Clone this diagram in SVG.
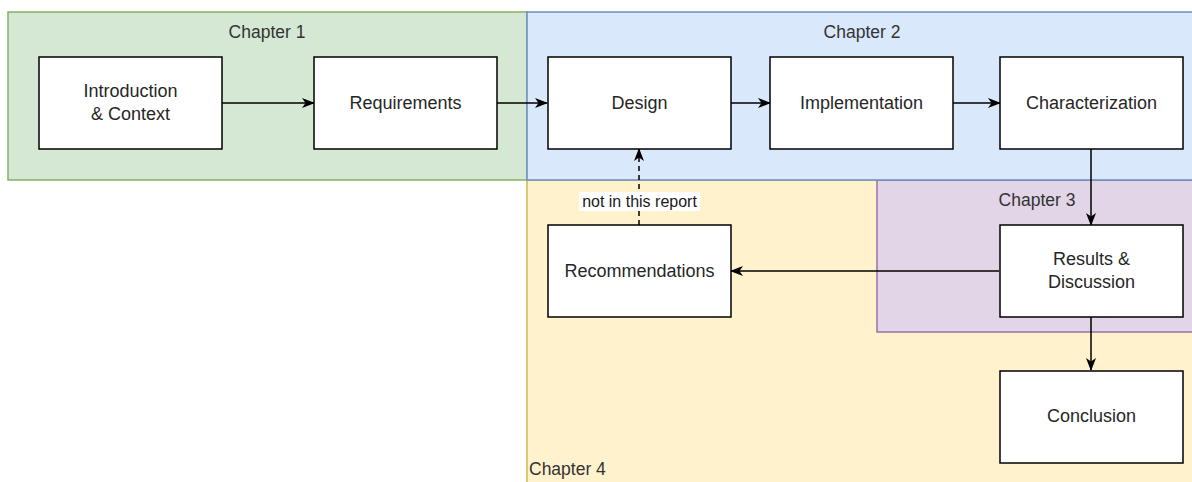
<svg xmlns="http://www.w3.org/2000/svg" width="1192" height="482" viewBox="0 0 1192 482">
  <style>
    .node rect { fill: #ffffff; stroke: #000000; stroke-width: 1.5; }
    .label { font-family: "Liberation Sans", Arial, sans-serif; font-size: 18px; fill: #262626; text-anchor: middle; }
    .chap { font-family: "Liberation Sans", Arial, sans-serif; font-size: 17.5px; fill: #333333; }
    .edge { fill: none; stroke: #000000; stroke-width: 1.5; }
    .dashed { stroke-dasharray: 5 4; }
    .edge-label { font-family: "Liberation Sans", Arial, sans-serif; font-size: 16px; fill: #1a1a1a; text-anchor: middle; }
  </style>
  <defs>
    <marker id="arrow" viewBox="0 0 13 10" refX="12" refY="5" markerWidth="13" markerHeight="10" markerUnits="userSpaceOnUse" orient="auto">
      <path d="M0,0 L13,5 L0,10 L3.5,5 Z" fill="#000000"/>
    </marker>
  </defs>

  <!-- chapter regions -->
  <g id="chapter-4">
    <rect x="527" y="180" width="670" height="310" fill="#fff2cc" stroke="#d6b656" stroke-width="1.5"/>
    <text class="chap" x="529" y="475">Chapter 4</text>
  </g>
  <g id="chapter-3">
    <rect x="877" y="180" width="320" height="152" fill="#e1d5e7" stroke="#9673a6" stroke-width="1.5"/>
    <text class="chap" x="1037" y="206" text-anchor="middle">Chapter 3</text>
  </g>
  <g id="chapter-1">
    <rect x="8" y="12" width="519" height="168" fill="#d5e8d4" stroke="#82b366" stroke-width="1.5"/>
    <text class="chap" x="267" y="38" text-anchor="middle">Chapter 1</text>
  </g>
  <g id="chapter-2">
    <rect x="527" y="12" width="670" height="168" fill="#dae8fc" stroke="#6c8ebf" stroke-width="1.5"/>
    <text class="chap" x="862" y="38" text-anchor="middle">Chapter 2</text>
  </g>

  <!-- connectors -->
  <g id="connectors">
    <path class="edge" d="M222,103 L314,103" marker-end="url(#arrow)"/>
    <path class="edge" d="M497,103 L547,103" marker-end="url(#arrow)"/>
    <path class="edge" d="M731,103 L770,103" marker-end="url(#arrow)"/>
    <path class="edge" d="M953,103 L1000,103" marker-end="url(#arrow)"/>
    <path class="edge" d="M1091,149 L1091,225" marker-end="url(#arrow)"/>
    <path class="edge" d="M1091,317 L1091,370" marker-end="url(#arrow)"/>
    <path class="edge" d="M999,271 L731,271" marker-end="url(#arrow)"/>
    <path class="edge dashed" d="M639,225 L639,149" marker-end="url(#arrow)"/>
    <rect x="579" y="192" width="121" height="19" fill="#ffffff"/>
    <text class="edge-label" x="639.5" y="207">not in this report</text>
  </g>

  <!-- process steps -->
  <g id="introduction" class="node">
    <rect x="39" y="57" width="183" height="92"/>
    <text class="label" x="130.5" y="97">Introduction</text>
    <text class="label" x="130.5" y="120">&amp; Context</text>
  </g>
  <g id="requirements" class="node">
    <rect x="314" y="57" width="183" height="92"/>
    <text class="label" x="405.5" y="109">Requirements</text>
  </g>
  <g id="design" class="node">
    <rect x="548" y="57" width="183" height="92"/>
    <text class="label" x="639.5" y="109">Design</text>
  </g>
  <g id="implementation" class="node">
    <rect x="770" y="57" width="183" height="92"/>
    <text class="label" x="861.5" y="109">Implementation</text>
  </g>
  <g id="characterization" class="node">
    <rect x="1000" y="57" width="183" height="92"/>
    <text class="label" x="1091.5" y="109">Characterization</text>
  </g>
  <g id="recommendations" class="node">
    <rect x="548" y="225" width="183" height="92"/>
    <text class="label" x="639.5" y="277">Recommendations</text>
  </g>
  <g id="results-discussion" class="node">
    <rect x="1000" y="225" width="183" height="92"/>
    <text class="label" x="1091.5" y="265">Results &amp;</text>
    <text class="label" x="1091.5" y="288">Discussion</text>
  </g>
  <g id="conclusion" class="node">
    <rect x="1000" y="371" width="183" height="92"/>
    <text class="label" x="1091.5" y="422">Conclusion</text>
  </g>
</svg>
